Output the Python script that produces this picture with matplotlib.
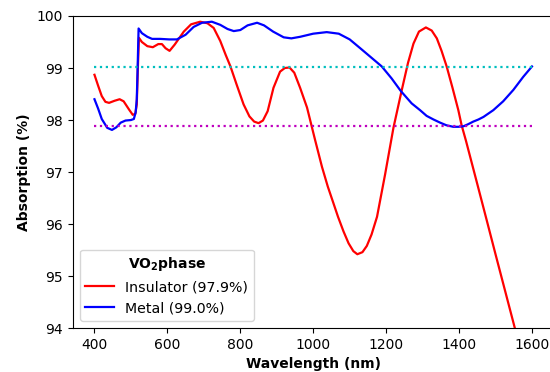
import matplotlib
matplotlib.use("Agg")
import matplotlib.pyplot as plt

# insulator phase (red)
wl_ins = [400, 410, 420, 430, 440, 455, 469, 480, 495, 505, 512, 516, 519, 522,
          530, 545, 560, 575, 585, 595, 606, 620, 645, 665, 690, 710, 727, 745,
          760, 773, 790, 800, 809, 825, 838, 850, 862, 875, 891, 909, 922, 935,
          948, 964, 983, 1005, 1024, 1040, 1055, 1068, 1083, 1097, 1110, 1121,
          1135, 1147, 1160, 1175, 1197, 1220, 1243, 1260, 1275, 1290, 1309, 1325,
          1339, 1352, 1366, 1382, 1398, 1407, 1419, 1450, 1476, 1500, 1553, 1600]
abs_ins = [98.87, 98.66, 98.46, 98.35, 98.33, 98.37, 98.40, 98.36, 98.20, 98.10,
           98.12, 98.30, 99.00, 99.58, 99.50, 99.42, 99.40, 99.46, 99.46, 99.38,
           99.33, 99.45, 99.70, 99.84, 99.89, 99.86, 99.77, 99.52, 99.25, 99.03,
           98.68, 98.48, 98.30, 98.07, 97.97, 97.94, 97.99, 98.17, 98.62, 98.93,
           99.00, 99.01, 98.91, 98.62, 98.24, 97.62, 97.10, 96.72, 96.41, 96.14,
           95.86, 95.63, 95.48, 95.42, 95.46, 95.58, 95.80, 96.14, 96.95, 97.85,
           98.58, 99.10, 99.47, 99.70, 99.78, 99.72, 99.57, 99.33, 99.03, 98.62,
           98.19, 97.90, 97.60, 96.77, 96.07, 95.42, 94.00, 92.73]

# metal phase (blue)
wl_met = [400, 410, 420, 435, 448, 460, 472, 485, 500, 508, 513, 516, 518, 521,
          530, 545, 558, 580, 605, 626, 650, 672, 695, 722, 745, 765, 782, 800,
          820, 846, 865, 890, 919, 940, 964, 1000, 1037, 1070, 1100, 1129, 1156,
          1188, 1215, 1240, 1270, 1293, 1311, 1330, 1348, 1365, 1384, 1398, 1412,
          1425, 1439, 1453, 1467, 1494, 1521, 1549, 1576, 1600]
abs_met = [98.40, 98.22, 98.02, 97.85, 97.81, 97.86, 97.95, 97.99, 98.00, 98.02,
           98.15, 98.40, 98.90, 99.76, 99.67, 99.60, 99.56, 99.56, 99.55, 99.55,
           99.64, 99.79, 99.87, 99.89, 99.83, 99.75, 99.71, 99.73, 99.82, 99.87,
           99.82, 99.70, 99.59, 99.57, 99.60, 99.66, 99.69, 99.66, 99.55, 99.38,
           99.22, 99.03, 98.80, 98.56, 98.32, 98.19, 98.08, 98.01, 97.95, 97.90,
           97.87, 97.87, 97.88, 97.92, 97.97, 98.01, 98.06, 98.19, 98.36, 98.58,
           98.83, 99.03]

avg_ins = 97.88
avg_met = 99.02

fig = plt.figure(figsize=(5.5, 3.72), dpi=100)
ax = fig.add_axes([0.132, 0.118, 0.875, 0.839])

ax.plot(wl_ins, abs_ins, color="r", lw=1.6, label="Insulator (97.9%)")
ax.plot(wl_met, abs_met, color="b", lw=1.6, label="Metal (99.0%)")
ax.plot([wl_ins[0], wl_ins[-1]], [avg_met, avg_met], "c:", lw=1.6)
ax.plot([wl_ins[0], wl_ins[-1]], [avg_ins, avg_ins], "m:", lw=1.6)

ax.set_xlim(340, 1660)
ax.set_ylim(94, 100)
ax.set_xticks([400, 600, 800, 1000, 1200, 1400, 1600])
ax.tick_params(labelsize=10)
ax.set_xlabel("Wavelength (nm)", fontweight="bold", fontsize=10)
ax.set_ylabel("Absorption (%)", fontweight="bold", fontsize=10)

ax.legend(loc="lower left", title=r"VO$_\mathbf{2}$phase",
          title_fontproperties={"weight": "bold", "size": 10}, fontsize=10.2)

plt.savefig("out.png", dpi=100)
